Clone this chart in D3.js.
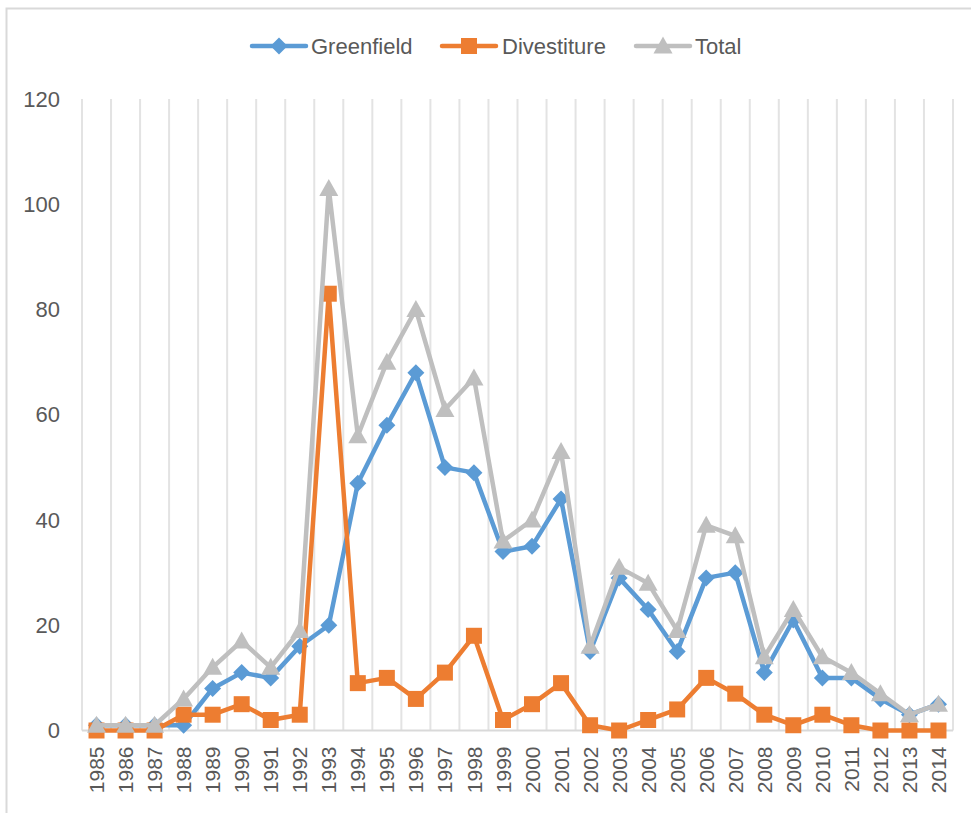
<!DOCTYPE html>
<html>
<head>
<meta charset="utf-8">
<script src="https://cdn.jsdelivr.net/npm/d3@7"></script>
<style>
  html, body { margin: 0; padding: 0; background: #fff; }
  svg { display: block; }
  text { font-family: "Liberation Sans", Arial, sans-serif; fill: #595959; }
</style>
</head>
<body>
<svg id="chart" width="971" height="813"></svg>
<script>
// Yearly counts, 1985–2014
const years = ["1985","1986","1987","1988","1989","1990","1991","1992","1993","1994",
               "1995","1996","1997","1998","1999","2000","2001","2002","2003","2004",
               "2005","2006","2007","2008","2009","2010","2011","2012","2013","2014"];
const greenfield = [1,1,1,1,8,11,10,16,20,47,58,68,50,49,34,35,44,15,29,23,15,29,30,11,21,10,10,6,3,5];
const divestiture = [0,0,0,3,3,5,2,3,83,9,10,6,11,18,2,5,9,1,0,2,4,10,7,3,1,3,1,0,0,0];
const total = [1,1,1,6,12,17,12,19,103,56,70,80,61,67,36,40,53,16,31,28,19,39,37,14,23,14,11,7,3,5];
const yTicks = [0,20,40,60,80,100,120];
const seriesNames = ["Greenfield","Divestiture","Total"];
const seriesColors = ["#5b9bd5","#ed7d31","#bfbfbf"];
const seriesMarkers = ["diamond","square","triangle"];

const svg = d3.select("#chart");
const margin = {left: 82, right: 953, top: 99, bottom: 730.5};

// outer chart frame
svg.append("rect")
  .attr("x", 6.5).attr("y", 8.5)
  .attr("width", 1000).attr("height", 900)
  .attr("fill", "none").attr("stroke", "#d9d9d9").attr("stroke-width", 2);

const x = d3.scaleBand().domain(years).range([margin.left, margin.right]);
const y = d3.scaleLinear().domain([0, 120]).range([margin.bottom, margin.top]);

// vertical gridlines at category boundaries
const bounds = years.map(d => x(d)).concat([x(years[years.length - 1]) + x.bandwidth()]);
svg.append("g").selectAll("line").data(bounds).join("line")
  .attr("x1", d => d).attr("x2", d => d)
  .attr("y1", y(120)).attr("y2", y(0))
  .attr("stroke", "#e3e3e3").attr("stroke-width", 2);

// category axis line
svg.append("line")
  .attr("x1", margin.left).attr("x2", margin.right)
  .attr("y1", y(0)).attr("y2", y(0))
  .attr("stroke", "#d9d9d9").attr("stroke-width", 2);

// y axis labels
const yAxis = d3.axisLeft(y).tickValues(yTicks).tickSize(0).tickPadding(22);
const gy = svg.append("g").attr("transform", `translate(${margin.left},0)`).call(yAxis);
gy.select(".domain").remove();
gy.selectAll("text").attr("font-size", 22).attr("fill", "#595959")
  .style("font-family", "'Liberation Sans', Arial, sans-serif");

// x axis labels, rotated
const xAxis = d3.axisBottom(x).tickSize(0).tickPadding(0);
const gx = svg.append("g").attr("transform", `translate(0,${y(0)})`).call(xAxis);
gx.select(".domain").remove();
gx.selectAll("text")
  .attr("font-size", 21).attr("fill", "#595959")
  .style("font-family", "'Liberation Sans', Arial, sans-serif")
  .attr("text-anchor", "end")
  .attr("transform", "translate(0,16) rotate(-90)")
  .attr("x", 0).attr("y", 0).attr("dy", "0.36em");

function markerPath(type) {
  if (type === "diamond") return "M0,-8.5L8.5,0L0,8.5L-8.5,0Z";
  if (type === "square") return "M-8,-8H8V8H-8Z";
  return "M0,-9.5L9.5,7.5H-9.5Z";
}

const allSeries = [greenfield, divestiture, total];
const line = d3.line().x((d, i) => x(years[i]) + x.bandwidth() / 2).y(d => y(d));

allSeries.forEach((vals, s) => {
  const g = svg.append("g");
  g.append("path").datum(vals)
    .attr("d", line)
    .attr("fill", "none")
    .attr("stroke", seriesColors[s])
    .attr("stroke-width", 4.5)
    .attr("stroke-linejoin", "round")
    .attr("stroke-linecap", "round");
  g.selectAll("path.mk").data(vals).join("path")
    .attr("class", "mk")
    .attr("transform", (d, i) => `translate(${x(years[i]) + x.bandwidth() / 2},${y(d)})`)
    .attr("d", markerPath(seriesMarkers[s]))
    .attr("fill", seriesColors[s]);
});

// legend
const legendItems = [
  {lx: 252, tx: 311},
  {lx: 442, tx: 502},
  {lx: 636, tx: 695}
];
const ly = 46;
seriesNames.forEach((name, s) => {
  const it = legendItems[s];
  const g = svg.append("g");
  g.append("line")
    .attr("x1", it.lx).attr("x2", it.lx + 54)
    .attr("y1", ly).attr("y2", ly)
    .attr("stroke", seriesColors[s]).attr("stroke-width", 4.5)
    .attr("stroke-linecap", "round");
  g.append("path")
    .attr("transform", `translate(${it.lx + 27},${ly})`)
    .attr("d", markerPath(seriesMarkers[s]))
    .attr("fill", seriesColors[s]);
  g.append("text")
    .attr("x", it.tx).attr("y", ly)
    .attr("dy", "0.36em")
    .attr("font-size", 22)
    .text(name);
});
</script>
</body>
</html>
